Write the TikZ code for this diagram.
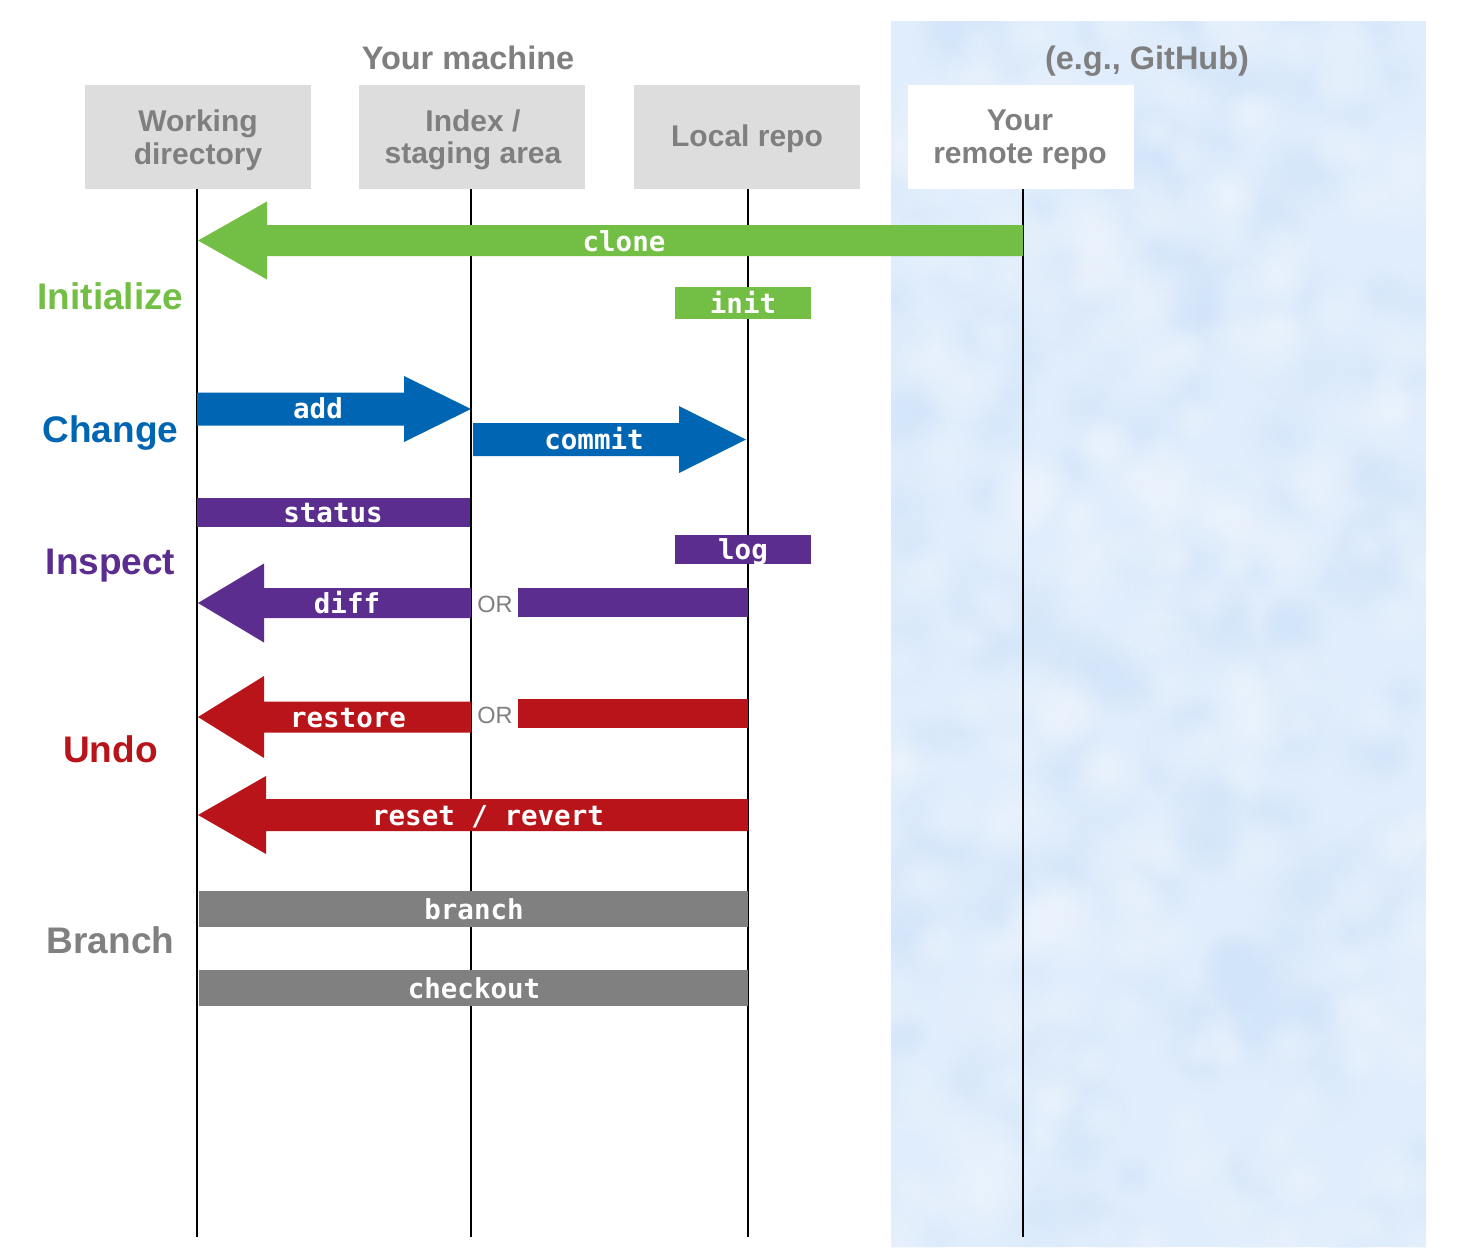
\documentclass[tikz,border=0pt]{standalone}
\usepackage{fontspec}
\setmainfont{Liberation Sans}
\newfontfamily\cmdfont{DejaVu Sans Mono}
\usetikzlibrary{fadings}
\definecolor{gitgreen}{RGB}{115,190,68}
\definecolor{gitblue}{RGB}{0,101,179}
\definecolor{gitpurple}{RGB}{91,45,142}
\definecolor{gitred}{RGB}{186,20,27}
\definecolor{gitgray}{RGB}{128,128,128}
\definecolor{hdrgray}{RGB}{221,221,221}
\definecolor{txtgray}{RGB}{127,127,127}
\definecolor{cloudbg}{RGB}{224,237,252}
\definecolor{clouddark}{RGB}{208,228,250}
\definecolor{cloudlight}{RGB}{238,245,254}
\tikzfading[name=fuzzyblob, inner color=transparent!0, outer color=transparent!100]
% color, tip x, head x, tail x, y, head half-height, shaft half-height
\newcommand\gitArrow[7]{%
  \fill[#1] (#2,#5) -- (#3,#5-#6) -- (#3,#5-#7) -- (#4,#5-#7) -- (#4,#5+#7)
    -- (#3,#5+#7) -- (#3,#5+#6) -- cycle;}
\begin{document}
\begin{tikzpicture}[x=1pt,y=-1pt,
  hdr/.style={fill=hdrgray, minimum width=226pt, minimum height=104pt, inner sep=0pt},
  hdrtext/.style={text=txtgray, font=\fontsize{30}{32.5}\selectfont\bfseries, align=center, inner sep=0pt},
  toptext/.style={text=txtgray, font=\fontsize{32.5}{36}\selectfont\bfseries, inner sep=0pt, anchor=base},
  cmd/.style={text=white, font=\cmdfont\fontsize{27.5}{30}\selectfont\bfseries, inner sep=0pt, anchor=base},
  cat/.style={font=\fontsize{37}{40}\selectfont\bfseries, inner sep=0pt, anchor=base},
  ortxt/.style={text=txtgray, font=\fontsize{23.5}{26}\selectfont, inner sep=0pt, anchor=base},
  life/.style={line width=1.2pt, black}]
\useasboundingbox (0,0) rectangle (1477,1253);
\fill[white] (0,0) rectangle (1477,1253);

% remote background (cloud texture)
\begin{scope}
  \clip (891,21) rectangle (1426,1247);
  \fill[cloudbg] (891,21) rectangle (1426,1247);
  \pgfmathsetseed{11}
  \foreach \i in {1,...,220}{
    \pgfmathsetmacro\bx{891+rnd*535}
    \pgfmathsetmacro\by{21+rnd*1226}
    \pgfmathsetmacro\br{22+rnd*28}
    \fill[clouddark, path fading=fuzzyblob, fill opacity=0.55] (\bx,\by) circle[radius=\br];
  }
  \foreach \i in {1,...,220}{
    \pgfmathsetmacro\bx{891+rnd*535}
    \pgfmathsetmacro\by{21+rnd*1226}
    \pgfmathsetmacro\br{22+rnd*28}
    \fill[cloudlight, path fading=fuzzyblob, fill opacity=0.5] (\bx,\by) circle[radius=\br];
  }
\end{scope}

% top titles
\node[toptext] (mach) at (468,69) {Your machine};
\node[toptext] (ghub) at (1147,69) {(e.g., GitHub)};

% header boxes
\node[hdr] (wd) at (198,137) {};
\node[hdr] (ix) at (472,137) {};
\node[hdr] (lr) at (746.5,137) {};
\node[hdr, fill=white] (rr) at (1020.5,137) {};
\node[hdrtext] (wdt) at (198,140) {Working\\directory};
\node[hdrtext] (ixt) at (473,140) {Index /\\staging area};
\node[hdrtext] (lrt) at (747,139) {Local repo};
\node[hdrtext] (rrt) at (1020,140) {Your\\remote repo};

% lifelines
\coordinate (wdtop) at (197,189); \coordinate (wdbot) at (197,1237);
\coordinate (ixtop) at (471,189); \coordinate (ixbot) at (471,1237);
\coordinate (lrtop) at (748,189); \coordinate (lrbot) at (748,1237);
\coordinate (rrtop) at (1023,189); \coordinate (rrbot) at (1023,1237);
\draw[life] (wdtop) -- (wdbot);
\draw[life] (ixtop) -- (ixbot);
\draw[life] (lrtop) -- (lrbot);
\draw[life] (rrtop) -- (rrbot);

% category labels
\node[cat, text=gitgreen] (catinit) at (110.5,309) {Initialize};
\node[cat, text=gitblue] (catchange) at (110.5,442) {Change};
\node[cat, text=gitpurple] (catinspect) at (110.5,574) {Inspect};
\node[cat, text=gitred] (catundo) at (110.5,762) {Undo};
\node[cat, text=gitgray] (catbranch) at (110.5,953) {Branch};

% Initialize
\gitArrow{gitgreen}{198}{267}{1023}{240.5}{39}{15.5}
\node[cmd] (clone) at (624,251) {clone};
\fill[gitgreen] (675,287) rectangle (811,319);
\node[cmd] (init) at (743,313) {init};

% Change
\gitArrow{gitblue}{471}{404}{197}{409}{33}{16.5}
\node[cmd] (add) at (318,418) {add};
\gitArrow{gitblue}{746}{679}{473}{439.5}{33.5}{16.5}
\node[cmd] (commit) at (594,449) {commit};

% Inspect
\fill[gitpurple] (197,498) rectangle (470,527);
\node[cmd] (status) at (333,522) {status};
\fill[gitpurple] (675,535) rectangle (811,564);
\node[cmd] (log) at (743,559) {log};
\gitArrow{gitpurple}{198}{264}{471}{603}{39.5}{15}
\node[cmd] (diff) at (347,613) {diff};
\node[ortxt] (or1) at (495,612) {OR};
\fill[gitpurple] (518,588) rectangle (748,617);

% Undo
\gitArrow{gitred}{198}{264}{471}{717}{41}{15.5}
\node[cmd] (restore) at (348,727) {restore};
\node[ortxt] (or2) at (495,723) {OR};
\fill[gitred] (518,699) rectangle (748,728);
\gitArrow{gitred}{198}{266}{748}{815}{39}{16}
\node[cmd] (reset) at (488,825) {reset / revert};

% Branch
\fill[gitgray] (199,891) rectangle (748,927);
\node[cmd] (branch) at (474,919) {branch};
\fill[gitgray] (199,970) rectangle (748,1006);
\node[cmd] (checkout) at (474,998) {checkout};
\end{tikzpicture}
\end{document}
